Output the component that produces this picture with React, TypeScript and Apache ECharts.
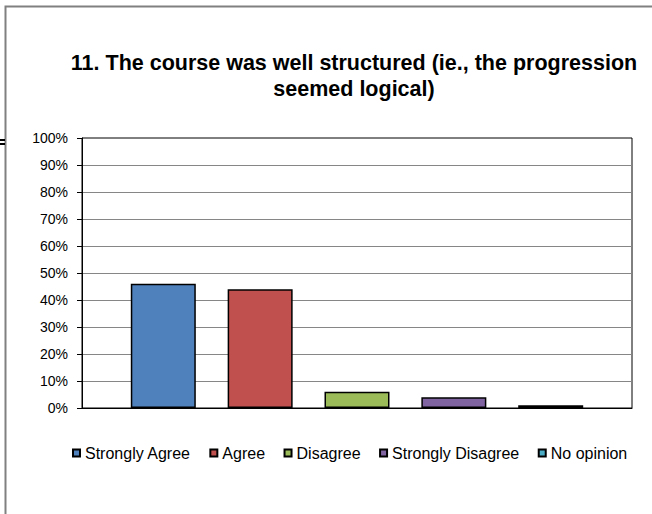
import React, { useEffect, useRef } from "react";
import * as echarts from "echarts";

const titleText = "11. The course was well structured (ie., the progression\nseemed logical)";
const categories = ["Strongly Agree", "Agree", "Disagree", "Strongly Disagree", "No opinion"];
const values = [46, 44, 6, 4, 1];
const colors = ["#4F81BD", "#C0504D", "#9BBB59", "#8064A2", "#4BACC6"];

export default function App() {
  const ref = useRef<HTMLDivElement>(null);
  useEffect(() => {
    if (!ref.current) return;
    const chart = echarts.init(ref.current, null, { renderer: "svg" });
    const font = "Liberation Sans, Arial, sans-serif";
    chart.setOption({
      animation: false,
      backgroundColor: "#ffffff",
      title: {
        text: titleText,
        left: 349,
        textAlign: "center",
        top: 45,
        textStyle: { fontFamily: font, fontSize: 21.5, fontWeight: "bold", color: "#000", lineHeight: 26 },
      },
      graphic: [
        { type: "rect", shape: { x: 5.5, y: 6.5, width: 900, height: 900 }, style: { fill: "none", stroke: "#808080", lineWidth: 2 } },
        { type: "rect", shape: { x: 0, y: 139, width: 5, height: 2 }, style: { fill: "#000" } },
        { type: "rect", shape: { x: 0, y: 143, width: 5, height: 2 }, style: { fill: "#000" } },
      ],
      legend: {
        top: 440,
        left: 67,
        itemWidth: 7,
        itemHeight: 7,
        itemGap: 18.5,
        icon: "rect",
        data: categories,
        textStyle: { fontFamily: font, fontSize: 16, color: "#000" },
      },
      grid: { left: 82, right: 20, top: 138, bottom: 106, show: true, borderColor: "#000", borderWidth: 1 },
      xAxis: {
        type: "category",
        data: [""],
        axisLine: { show: true, lineStyle: { color: "#000", width: 1 } },
        axisTick: { show: false },
        axisLabel: { show: false },
      },
      yAxis: {
        type: "value",
        min: 0,
        max: 100,
        interval: 10,
        axisLine: { show: true, lineStyle: { color: "#000", width: 1 } },
        axisTick: { show: true, length: 5, lineStyle: { color: "#000" } },
        axisLabel: { formatter: "{value}%", fontFamily: font, fontSize: 14, color: "#000", margin: 14 },
        splitLine: { show: true, showMaxLine: false, lineStyle: { color: "#868686", width: 1 } },
      },
      series: categories.map((name, i) => ({
        name,
        type: "bar",
        data: [values[i]],
        barWidth: 65,
        barGap: "49%",
        itemStyle: { color: colors[i], borderColor: "#000", borderWidth: 1.5 },
      })),
    });
    return () => chart.dispose();
  }, []);
  return <div ref={ref} style={{ position: "absolute", left: 0, top: 0, width: 652, height: 514 }} />;
}
